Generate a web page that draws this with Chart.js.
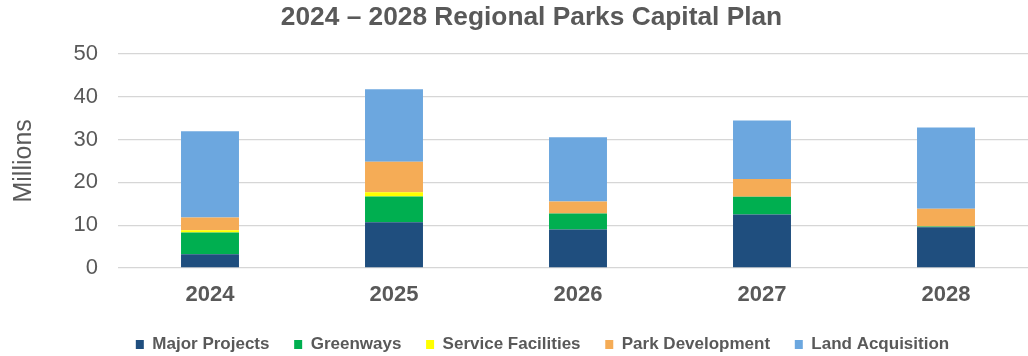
<!DOCTYPE html>
<html>
<head>
<meta charset="utf-8">
<title>2024 – 2028 Regional Parks Capital Plan</title>
<script src="https://cdn.jsdelivr.net/npm/chart.js@4/dist/chart.umd.min.js"></script>
<style>
  html, body { margin: 0; padding: 0; background: #ffffff; overflow: hidden; }
  #wrap { position: relative; width: 1040px; height: 363px; }
</style>
</head>
<body>
<div id="wrap"><canvas id="plan"></canvas></div>
<script>
// Capital plan by year, in millions of dollars
const years = ['2024', '2025', '2026', '2027', '2028'];
const majorProjects     = [3.2, 10.7, 9.0, 12.5, 9.5];
const greenways         = [5.1, 6.0, 3.7, 4.1, 0.2];
const serviceFacilities = [0.5, 1.0, 0, 0, 0];
const parkDevelopment   = [3.0, 7.1, 2.8, 4.2, 4.1];
const landAcquisition   = [20.1, 16.9, 15.0, 13.6, 19.0];
const yTicks = [0, 10, 20, 30, 40, 50];

const GREY = '#595959';
const FONT = '"Liberation Sans", Arial, Helvetica, sans-serif';

const series = [
  { label: 'Major Projects',     data: majorProjects,     color: '#1F4E7E' },
  { label: 'Greenways',          data: greenways,         color: '#00AF50' },
  { label: 'Service Facilities', data: serviceFacilities, color: '#FFFF00' },
  { label: 'Park Development',   data: parkDevelopment,   color: '#F5AC56' },
  { label: 'Land Acquisition',   data: landAcquisition,   color: '#6CA7DF' }
];

// Moves the legend row right so it sits under the plot like the original layout
const legendNudge = {
  id: 'legendNudge',
  afterLayout(chart) {
    if (chart.legend) chart.legend.left += 22;
  }
};

new Chart(document.getElementById('plan'), {
  type: 'bar',
  data: {
    labels: years,
    datasets: series.map(s => ({
      label: s.label,
      data: s.data,
      backgroundColor: s.color,
      borderWidth: 0,
      categoryPercentage: 1,
      barPercentage: 0.315
    }))
  },
  plugins: [legendNudge],
  options: {
    responsive: true,
    maintainAspectRatio: false,
    animation: false,
    layout: { padding: { left: 25, right: 2, top: 0, bottom: 0 } },
    plugins: {
      title: {
        display: true,
        text: '2024 – 2028 Regional Parks Capital Plan',
        color: GREY,
        font: { family: FONT, size: 26.3, weight: 'bold' },
        padding: { top: 2, bottom: 20.2 }
      },
      legend: {
        position: 'bottom',
        labels: {
          color: GREY,
          font: { family: FONT, size: 17, weight: 'bold' },
          boxWidth: 8,
          boxHeight: 9,
          padding: 24.7
        }
      },
      tooltip: { enabled: false }
    },
    scales: {
      x: {
        stacked: true,
        grid: { display: false, drawTicks: false },
        border: { display: false },
        ticks: {
          color: GREY,
          font: { family: FONT, size: 22, weight: 'bold' },
          padding: 14
        },
        afterFit(scale) { scale.height = 43.3; }
      },
      y: {
        stacked: true,
        min: 0,
        max: 50,
        afterBuildTicks(scale) { scale.ticks = yTicks.map(v => ({ value: v })); },
        grid: { color: '#d6d6d6', lineWidth: 1.3, drawTicks: false },
        border: { display: false },
        ticks: {
          color: GREY,
          font: { family: FONT, size: 22 },
          padding: 20
        },
        title: {
          display: true,
          text: 'Millions',
          color: GREY,
          font: { family: FONT, size: 25 },
          padding: { top: -16, bottom: 0 }
        },
        afterFit(scale) { scale.width = 93; }
      }
    }
  }
});
</script>
</body>
</html>
